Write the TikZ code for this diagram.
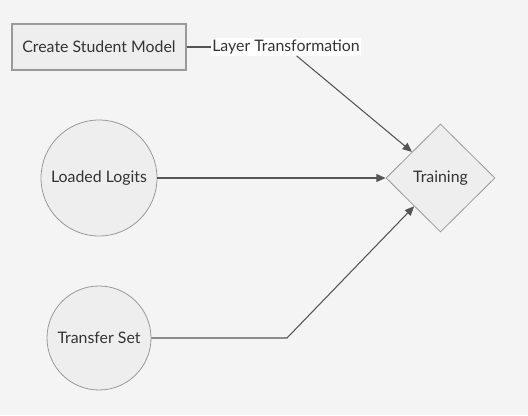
\documentclass[tikz,border=0pt]{standalone}
\usepackage{fontspec}
\setmainfont{Lato}
\usetikzlibrary{shapes.geometric,arrows.meta,calc}
\definecolor{bg}{HTML}{F4F4F4}
\definecolor{shapefill}{HTML}{EEEEEE}
\definecolor{shapeline}{HTML}{999999}
\definecolor{conn}{HTML}{555555}
\definecolor{txt}{HTML}{333333}
\begin{document}
\begin{tikzpicture}[x=0.75pt,y=-0.75pt,
  every node/.style={font=\fontsize{11.9pt}{14pt}\selectfont, text=txt},
  box/.style={draw=shapeline, fill=shapefill, line width=0.9pt, minimum width=130.5pt, minimum height=34.5pt, inner sep=0pt},
  circ/.style={circle, draw=shapeline, fill=shapefill, line width=0.6pt, inner sep=0pt},
  dia/.style={diamond, draw=shapeline, fill=shapefill, line width=0.6pt, inner sep=0pt, minimum width=81.75pt, minimum height=81pt},
  lbl/.style={fill=white, inner sep=1pt},
  link/.style={draw=conn, line width=0.8pt},
  arr/.style={link, -{Triangle[length=7pt,width=6pt]}}
]
\fill[bg] (0,0) rectangle (528,415);
\useasboundingbox (0,0) rectangle (528,415);
\node[box] (csm) at (99,47) {Create Student Model};
\node[circ, minimum size=87pt] (ll) at (99,178) {Loaded Logits};
\node[circ, minimum size=78pt] (ts) at (99,338) {Transfer Set};
\node[dia] (tr) at (440.5,178) {Training};
\node[lbl] (lt) at (286,47) {Layer Transformation};
\coordinate (tin1) at ($(tr.west)!0.48!(tr.north)$);
\coordinate (tin2) at ($(tr.west)!0.52!(tr.south)$);
\coordinate (bend) at (287,338);
\draw[link] (csm.east) -- (lt.west);
\draw[arr] (lt) -- (tin1);
\draw[arr] (ll.east) -- (tr.west);
\draw[arr] (ts.east) -- (bend) -- (tin2);
\end{tikzpicture}
\end{document}
